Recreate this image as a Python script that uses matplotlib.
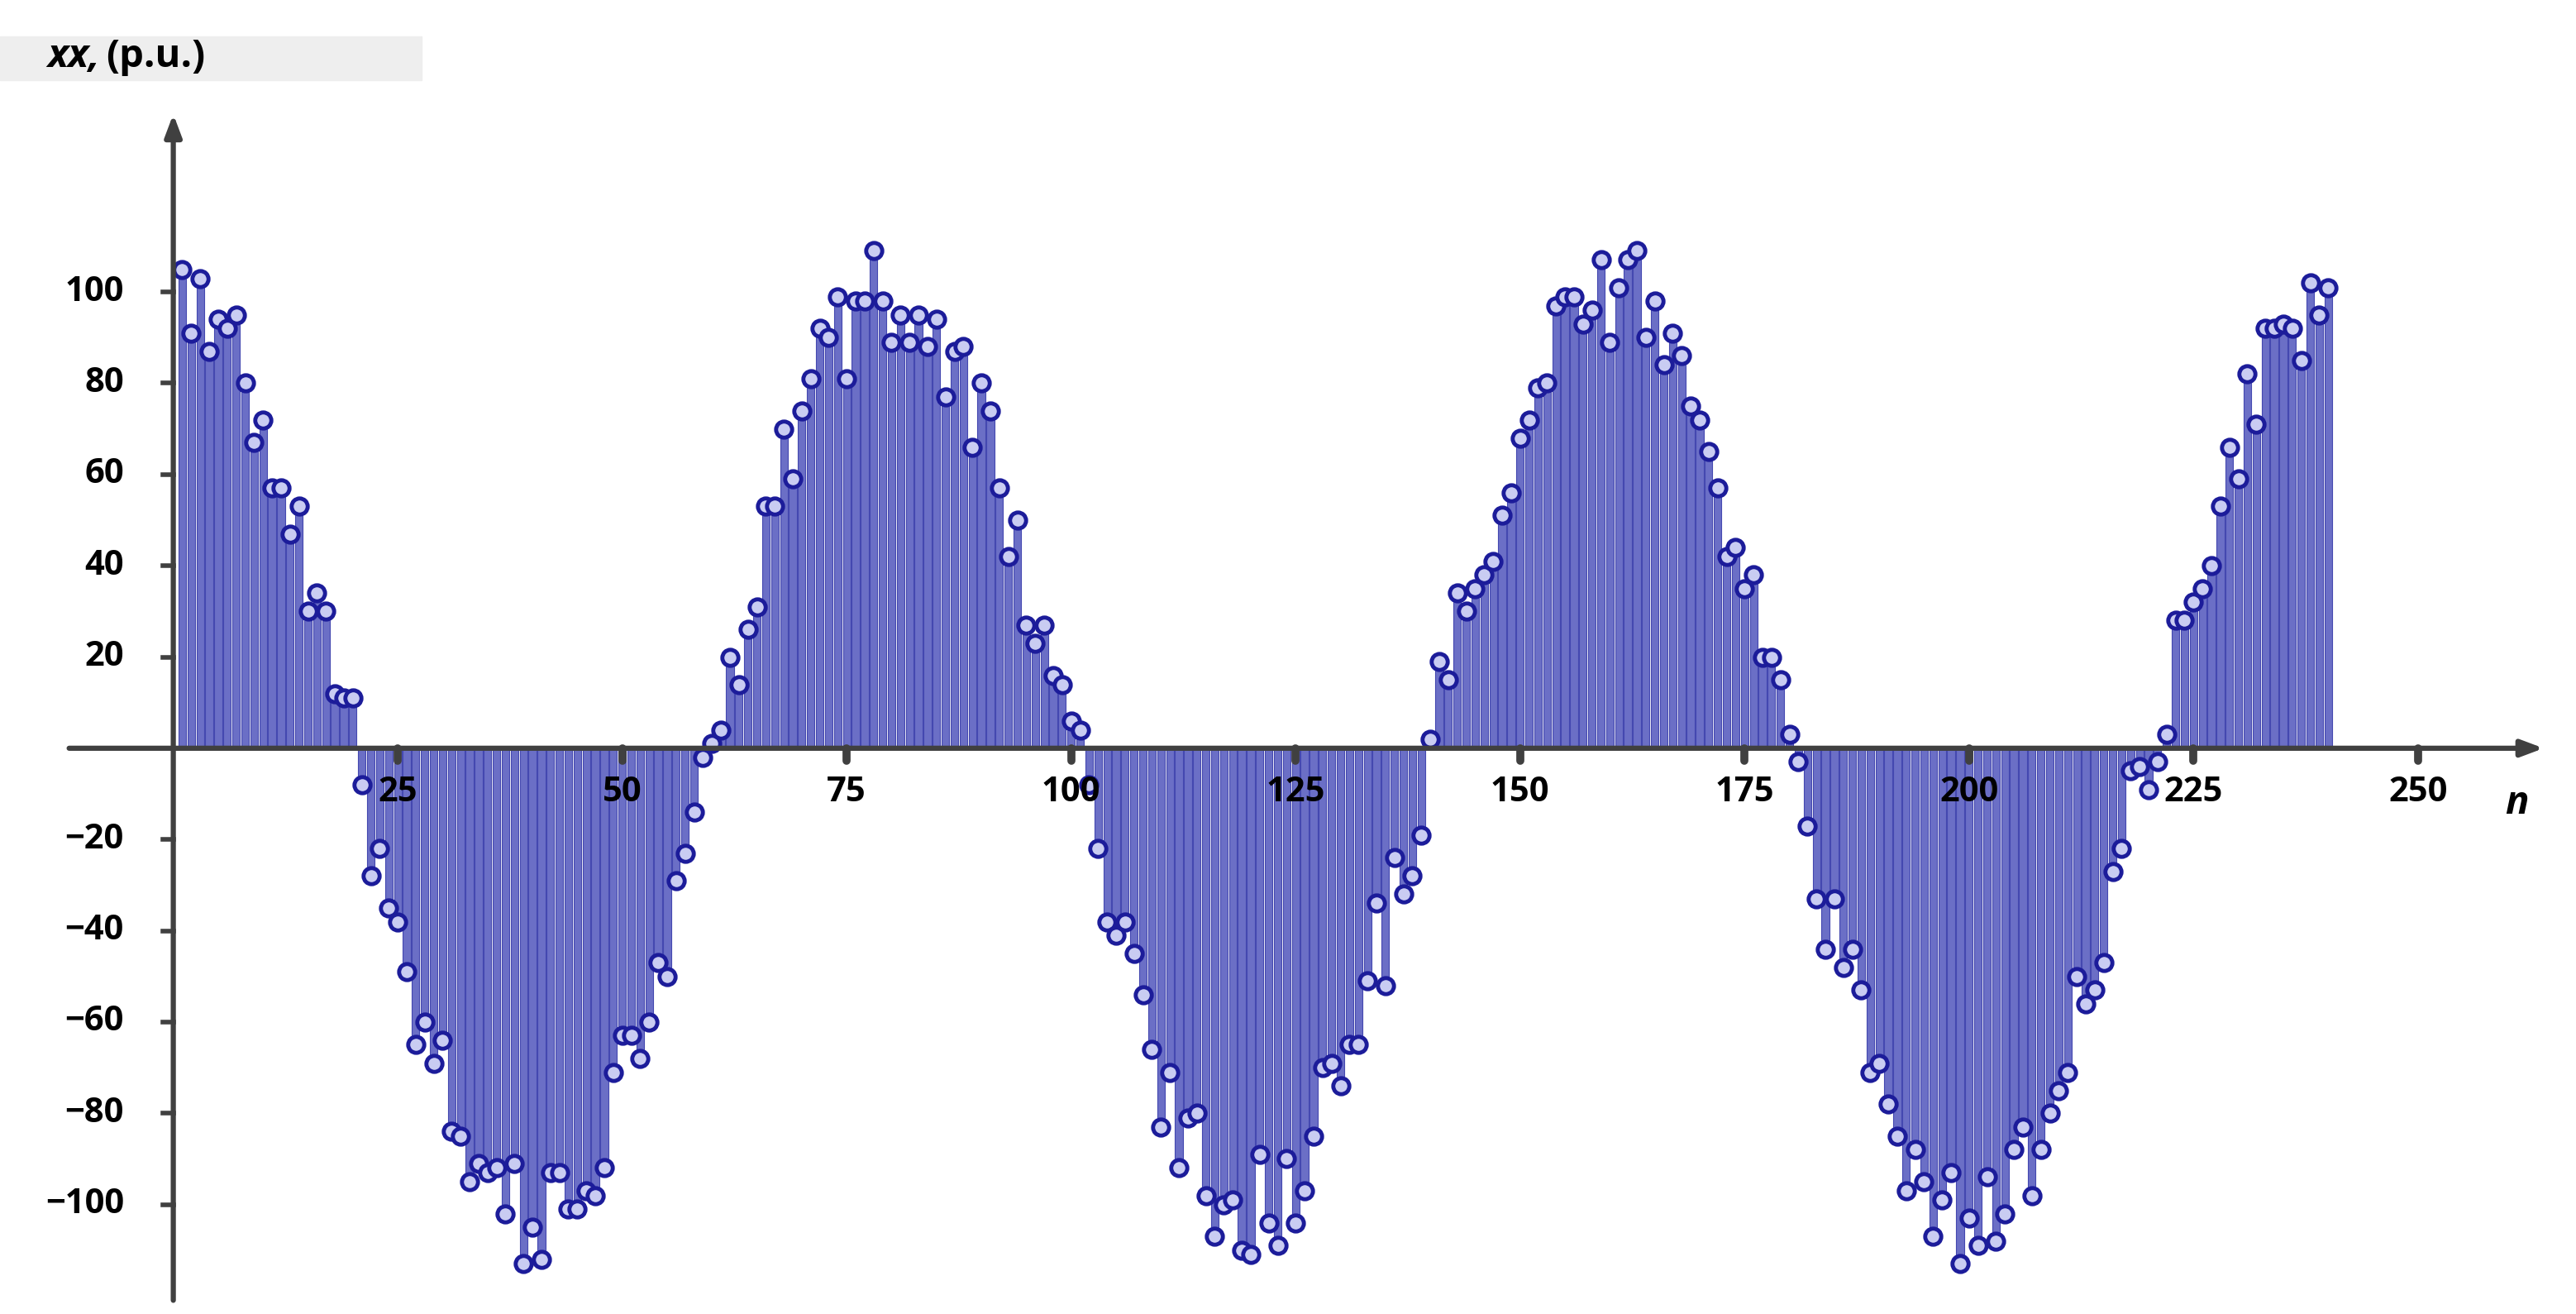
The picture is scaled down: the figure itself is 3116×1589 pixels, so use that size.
import matplotlib
matplotlib.use("Agg")
import matplotlib.pyplot as plt
import numpy as np

values = [105,91,103,87,94,92,95,80,67,72,57,57,47,53,30,34,30,12,11,11,
          -8,-28,-22,-35,-38,-49,-65,-60,-69,-64,-84,-85,-95,-91,-93,-92,-102,-91,-113,-105,
          -112,-93,-93,-101,-101,-97,-98,-92,-71,-63,
          -63,-68,-60,-47,-50,-29,-23,-14,-2,1,
          4,20,14,26,31,53,53,70,59,74,
          81,92,90,99,81,98,98,109,98,89,
          95,89,95,88,94,77,87,88,66,80,
          74,57,42,50,27,23,27,16,14,6,
          4,-8,-22,-38,-41,-38,-45,-54,-66,-83,
          -71,-92,-81,-80,-98,-107,-100,-99,-110,-111,
          -89,-104,-109,-90,-104,-97,-85,-70,-69,-74,
          -65,-65,-51,-34,-52,-24,-32,-28,-19,2,
          19,15,34,30,35,38,41,51,56,68,
          72,79,80,97,99,99,93,96,107,89,
          101,107,109,90,98,84,91,86,75,72,
          65,57,42,44,35,38,20,20,15,3,
          -3,-17,-33,-44,-33,-48,-44,-53,-71,-69,
          -78,-85,-97,-88,-95,-107,-99,-93,-113,
          -103,-109,-94,-108,-102,-88,-83,-98,-88,-80,
          -75,-71,-50,-56,-53,-47,-27,-22,-5,-4,
          -9,-3,3,28,28,32,35,40,53,66,
          59,82,71,92,92,93,92,85,102,95,
          101]
n = np.arange(1, len(values) + 1)
xticks = [25, 50, 75, 100, 125, 150, 175, 200, 225, 250]
yticks = [-100, -80, -60, -40, -20, 20, 40, 60, 80, 100]

fig = plt.figure(figsize=(31.16, 15.89), dpi=100)
ax = fig.add_axes([0, 0, 1, 1])
ax.set_xlim(-19.3, 267.6)
ax.set_ylim(-124, 164)
ax.axis("off")

ax.bar(n, values, width=0.85, color="#6b6fc6", edgecolor="#4448b0", linewidth=0.8, zorder=2)
ax.plot(n, values, linestyle="none", marker="o", markersize=14,
        markerfacecolor="#c9ccf2", markeredgecolor="#1c1c9a", markeredgewidth=3.5, zorder=4)

axc = "#404040"
ax.annotate("", xy=(264, 0), xytext=(-11.6, 0),
            arrowprops=dict(arrowstyle="-|>,head_length=1.6,head_width=0.6", color=axc, lw=4.5,
                            shrinkA=0, shrinkB=0), zorder=5)
ax.annotate("", xy=(0, 139), xytext=(0, -121),
            arrowprops=dict(arrowstyle="-|>,head_length=1.6,head_width=0.6", color=axc, lw=4.5,
                            shrinkA=0, shrinkB=0), zorder=5)

font = "Open Sans"
for t in xticks:
    ax.plot([t, t], [0, -2.8], color=axc, lw=7, solid_capstyle="round", zorder=5)
    ax.text(t, -6, str(t), ha="center", va="top", fontsize=30, fontweight="bold",
            family=font, color="black", zorder=6)
for t in yticks:
    ax.plot([0, -1.2], [t, t], color=axc, lw=4, zorder=5)
    lab = str(t).replace("-", "\u2212")
    ax.text(-5.5, t, lab, ha="right", va="center", fontsize=30, fontweight="bold",
            family=font, color="black", zorder=6)

ax.text(261, -12, "n", ha="center", va="center", fontsize=34, fontweight="bold",
        fontstyle="italic", family=font, color="black")

ax.add_patch(plt.Rectangle((-19.3, 146.5), 47, 9.5, color="#eeeeee", zorder=1))
ax.text(-14.0, 151.5, "xx,", ha="left", va="center", fontsize=34, fontweight="bold",
        fontstyle="italic", family=font, color="black")
ax.text(-7.5, 151.5, "(p.u.)", ha="left", va="center", fontsize=34, fontweight="bold",
        family=font, color="black")

fig.savefig("out.png", dpi=100, facecolor="white")
